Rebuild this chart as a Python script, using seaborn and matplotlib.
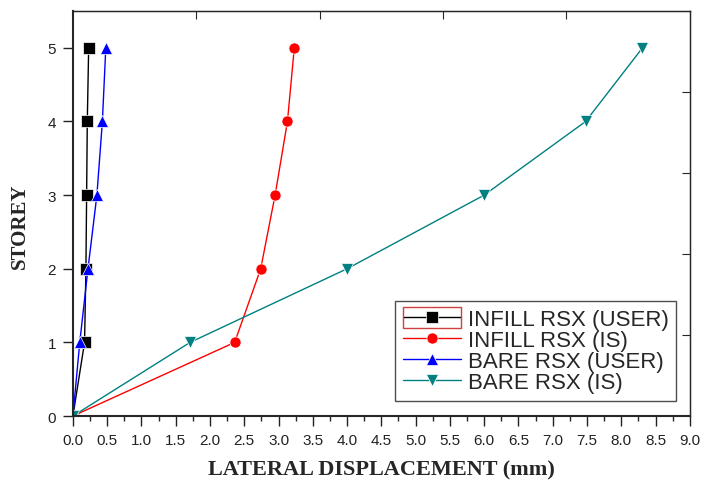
import numpy as np
import pandas as pd
import matplotlib
matplotlib.use("Agg")
import matplotlib.pyplot as plt
import seaborn as sns
from matplotlib.patches import Rectangle

# ------------------------------------------------------------
# Data
# ------------------------------------------------------------
storey = [0, 1, 2, 3, 4, 5]
infill_user = [0.0, 0.17, 0.19, 0.20, 0.21, 0.23]
infill_is = [0.0, 2.36, 2.74, 2.95, 3.13, 3.23]
bare_user = [0.0, 0.10, 0.22, 0.35, 0.43, 0.48]
bare_is = [0.0, 1.71, 4.00, 6.00, 7.48, 8.31]

series_names = ["INFILL RSX (USER)", "INFILL RSX (IS)", "BARE RSX (USER)", "BARE RSX (IS)"]
series_vals = [infill_user, infill_is, bare_user, bare_is]
colors = ["#000000", "#ff0000", "#0000ff", "#008080"]
markers = ["s", "o", "^", "v"]

df = pd.concat(
    [pd.DataFrame({"disp": v, "storey": storey, "case": n}) for n, v in zip(series_names, series_vals)],
    ignore_index=True,
)

# ------------------------------------------------------------
# Plot
# ------------------------------------------------------------
sns.set_style("ticks")
plt.rcParams["font.family"] = ["Liberation Sans", "DejaVu Sans"]

fig = plt.figure(figsize=(7.01, 4.81), dpi=100)
ax = fig.add_axes([0.104, 0.133, 0.880, 0.842])

sns.lineplot(
    data=df, x="disp", y="storey", hue="case", style="case",
    hue_order=series_names, style_order=series_names,
    palette=dict(zip(series_names, colors)),
    markers=dict(zip(series_names, markers)), dashes=False,
    sort=False, estimator=None, linewidth=1.0, markersize=8,
    markeredgewidth=0.5, ax=ax,
)

ax.set_xlim(0, 9)
ax.set_ylim(0, 5.5)
ax.set_xticks(np.arange(0, 9.01, 0.5))
ax.set_xticks(np.arange(0, 9.01, 0.25), minor=True)
ax.set_xticklabels([f"{t:.1f}" for t in np.arange(0, 9.01, 0.5)])
ax.set_yticks(range(0, 6))
ax.tick_params(axis="both", labelsize=11, direction="out", length=7, width=1,
               colors="#222222", pad=5)
ax.tick_params(axis="x", which="minor", direction="out", length=3.5, width=1)

for s in ["left", "bottom"]:
    ax.spines[s].set_linewidth(1.5)
for s in ["top", "right"]:
    ax.spines[s].set_visible(True)
    ax.spines[s].set_linewidth(1.0)

top = ax.secondary_xaxis("top")
top.set_xticks([1.8, 3.6, 5.4, 7.2])
top.set_xticklabels([])
top.tick_params(direction="in", length=6)
right = ax.secondary_yaxis("right")
right.set_yticks([1.1, 2.2, 3.3, 4.4])
right.set_yticklabels([])
right.tick_params(direction="in", length=6)

ax.set_xlabel("LATERAL DISPLACEMENT (mm)", family="Liberation Serif", fontweight="bold",
              fontsize=16, labelpad=9)
ax.set_ylabel("STOREY", family="Liberation Serif", fontweight="bold", fontsize=15)
ax.yaxis.set_label_coords(-0.07, 0.47)

leg = ax.legend(loc="lower right", bbox_to_anchor=(0.978, 0.038), fontsize=16,
                frameon=True, fancybox=False, edgecolor="#222222", borderpad=0.35,
                labelspacing=0.0, handlelength=2.6, handletextpad=0.3, borderaxespad=0)
leg.get_frame().set_linewidth(1.0)

# red selection box around the first legend handle, as in the source figure
fig.canvas.draw()
h0 = leg.legend_handles[0]
xd, yd = h0.get_xdata(), h0.get_ydata()
p0 = h0.get_transform().transform((xd[0], yd[0]))
p1 = h0.get_transform().transform((xd[-1], yd[-1]))
fig.patches.append(Rectangle((p0[0], p0[1] - 10.5), p1[0] - p0[0], 21,
                             transform=None, fill=False, edgecolor="#d04040",
                             linewidth=1.0))

plt.savefig("out.png", dpi=100)
